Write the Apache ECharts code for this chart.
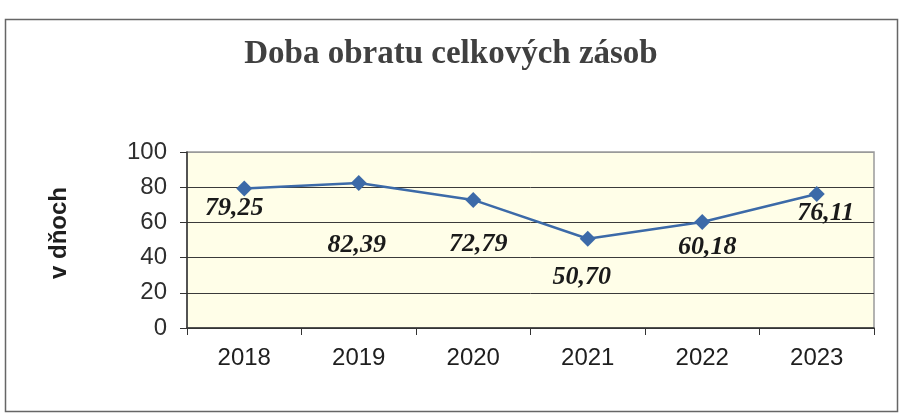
<!DOCTYPE html>
<html><head><meta charset="utf-8">
<script src="https://cdn.jsdelivr.net/npm/echarts@6/dist/echarts.min.js"></script>
<style>html,body{margin:0;padding:0;background:#fff}#c{width:902px;height:414px}</style>
</head><body><div id="c"></div>
<script>
const titleText = 'Doba obratu celkových zásob';
const yAxisTitle = 'v dňoch';
const categories = ['2018', '2019', '2020', '2021', '2022', '2023'];
const values = [79.25, 82.39, 72.79, 50.70, 60.18, 76.11];
const yTicks = [0, 20, 40, 60, 80, 100];
const labelOffsets = [[-10, 20], [-2, 62], [5, 44], [-6, 39], [5, 25], [9, 19]];

const chart = echarts.init(document.getElementById('c'), null, {renderer: 'canvas'});
chart.setOption({
  animation: false,
  backgroundColor: '#ffffff',
  title: {
    text: titleText, left: 'center', top: 33,
    textStyle: {fontFamily: 'Liberation Serif', fontWeight: 'bold', fontSize: 33, color: '#404040'}
  },
  graphic: [{
    type: 'rect', shape: {x: 5.5, y: 19.5, width: 892, height: 392},
    style: {fill: 'none', stroke: '#666', lineWidth: 1.5}, silent: true
  }],
  grid: {
    left: 187, right: 28, top: 152, bottom: 86, show: true,
    backgroundColor: '#fffee8', borderColor: '#9a9a9a', borderWidth: 1.5
  },
  xAxis: {
    type: 'category', data: categories, boundaryGap: true,
    axisLine: {lineStyle: {color: '#333', width: 1.5}},
    axisTick: {show: true, length: 7, inside: false, lineStyle: {color: '#333'}},
    axisLabel: {fontFamily: 'Liberation Sans', fontSize: 24, color: '#1e1e1e', margin: 18}
  },
  yAxis: {
    type: 'value', min: yTicks[0], max: yTicks[yTicks.length - 1], interval: 20,
    name: yAxisTitle, nameLocation: 'middle', nameRotate: 90, nameGap: 116,
    nameTextStyle: {fontFamily: 'Liberation Sans', fontWeight: 'bold', fontSize: 24, color: '#1e1e1e', padding: [0, 0, 0, 14]},
    axisLine: {show: true, lineStyle: {color: '#333', width: 1.5}},
    axisTick: {show: true, length: 7, lineStyle: {color: '#333'}},
    axisLabel: {fontFamily: 'Liberation Sans', fontSize: 24, color: '#2e2e2e', margin: 20},
    splitLine: {show: true, lineStyle: {color: ['#3a3a3a', '#3a3a3a', '#3a3a3a', '#3a3a3a', '#3a3a3a', '#9a9a9a'], width: 1}}
  },
  series: [{
    type: 'line',
    data: values.map((v, i) => ({
      value: v,
      label: {offset: labelOffsets[i]}
    })),
    symbol: 'diamond', symbolSize: 16,
    lineStyle: {color: '#3c6aa8', width: 2.5},
    itemStyle: {color: '#3c6aa8'},
    label: {
      show: true, position: 'inside',
      formatter: p => p.value.toFixed(2).replace('.', ','),
      fontFamily: 'Liberation Serif', fontWeight: 'bold', fontStyle: 'italic',
      fontSize: 26, color: '#1a1a1a'
    }
  }]
});
</script>
</body></html>
